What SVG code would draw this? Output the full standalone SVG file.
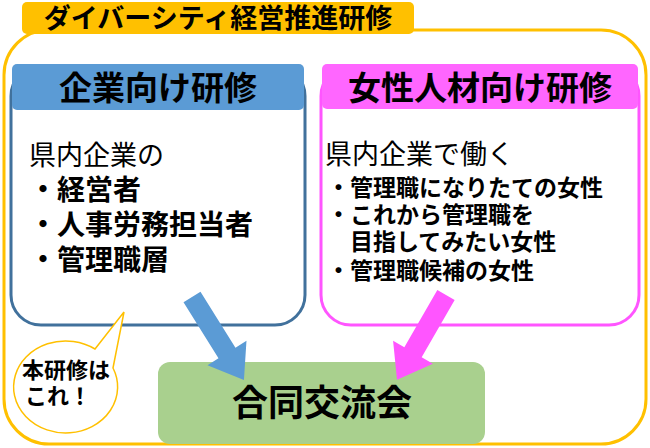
<svg xmlns="http://www.w3.org/2000/svg" width="650" height="448" viewBox="0 0 650 448">
<style>
text{font-family:"Noto Sans CJK JP","Noto Sans CJK SC",sans-serif;fill:#000}
.b{font-weight:bold}
</style>
<rect width="650" height="448" fill="#fff"/>
<g id="outer"><rect x="4" y="30" width="642" height="414" rx="45" fill="none" stroke="#FFC000" stroke-width="3"/></g>
<g id="title"><rect x="22" y="2" width="392" height="32" rx="5" fill="#FFC000"/><text x="218" y="28" font-size="27" class="b" text-anchor="middle">ダイバーシティ経営推進研修</text></g>
<g id="left">
<rect x="11" y="66" width="294" height="259" rx="30" fill="#fff" stroke="#41719C" stroke-width="3"/>
<rect x="12" y="64" width="292" height="46" rx="5" fill="#5B9BD5"/>
<text x="158" y="100" font-size="33" class="b" text-anchor="middle">企業向け研修</text>
<text x="29" y="165" font-size="27">県内企業の</text>
<text x="29" y="200" font-size="28" class="b">・経営者</text>
<text x="29" y="235" font-size="28" class="b">・人事労務担当者</text>
<text x="29" y="270" font-size="28" class="b">・管理職層</text>
</g>
<g id="right">
<rect x="321" y="66" width="318" height="259" rx="30" fill="#fff" stroke="#FF55FF" stroke-width="3"/>
<rect x="322" y="64" width="316" height="45" rx="5" fill="#FF66FF"/>
<text x="480" y="100" font-size="33" class="b" text-anchor="middle">女性人材向け研修</text>
<text x="325" y="164" font-size="27">県内企業で働く</text>
<text x="327" y="196" font-size="23" class="b">・管理職になりたての女性</text>
<text x="327" y="223" font-size="23" class="b">・これから管理職を</text>
<text x="350" y="250" font-size="23" class="b">目指してみたい女性</text>
<text x="327" y="279" font-size="23" class="b">・管理職候補の女性</text>
</g>
<g id="merge">
<rect x="158" y="362" width="327" height="82" rx="12" fill="#A9D08E"/>
<text x="322" y="416" font-size="36" class="b" text-anchor="middle">合同交流会</text>
</g>
<g id="connectors">
<polygon points="0,-10 66,-10 66,-23 98,0 66,23 66,10 0,10" fill="#5B9BD5" transform="translate(192,297) rotate(58)"/>
<polygon points="0,-10 66,-10 66,-23 98,0 66,23 66,10 0,10" fill="#FF55FF" transform="translate(446,295) rotate(120)"/>
</g>
<g id="bubble">
<path d="M95,349 L124,312 L113,368 A52,46 0 1 1 95,349 Z" fill="#fff" stroke="#FFC000" stroke-width="1.5"/>
<text x="66" y="378" font-size="22" class="b" text-anchor="middle">本研修は</text>
<text x="58" y="404" font-size="22" class="b" text-anchor="middle">これ！</text>
</g>
</svg>
